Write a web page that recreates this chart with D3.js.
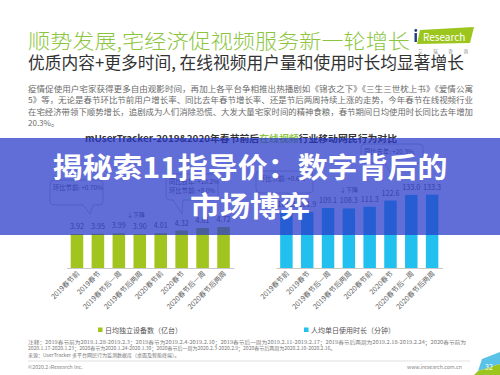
<!DOCTYPE html>
<html lang="zh">
<head>
<meta charset="utf-8">
<title>宅经济促视频服务新一轮增长</title>
<script src="https://cdn.jsdelivr.net/npm/d3@7"></script>
<style>
  body { margin: 0; background: #fff; overflow: hidden; }
  text { font-family: "Noto Sans CJK SC", "Noto Sans", sans-serif; }
</style>
</head>
<body>
<div id="chart"></div>
<script>
// data
var periods = ["2019春节前", "2019春节", "2019春节后一周", "2019春节后两周",
               "2020春节前", "2020春节", "2020春节后一周", "2020春节后两周"];
var devices = [3.92, 3.95, 3.99, 3.90, 4.01, 4.32, 4.61, 4.72];      // 日均独立设备数（亿台）
var minutes = [101.3, 101.9, 109.1, 108.3, 111.3, 122.6, 133.0, 133.3]; // 人均单日使用时长（分钟）

var paragraph = [
  "疫情促使用户宅家获得更多自由观影时间，再加上各平台争相推出热播剧如《锦衣之下》《三生三世枕上书》《爱情公寓",
  "5》等，无论是春节环比节前用户增长率、同比去年春节增长率、还是节后两周持续上涨的走势，今年春节在线视频行业",
  "在宅经济带领下顺势增长，追剧成为人们消除恐慌、大发大量宅家时间的精神食粮，春节期间日均使用时长同比去年增加",
  "20.3%。"
];
var notes = [
  "注释：2019春节前为2019.1.28-2019.2.3；2019春节为2019.2.4-2019.2.10；2019春节后一周为2019.2.11-2019.2.17；2019春节后两周为2019.2.18-2019.2.24；2020春节前为",
  "2020.1.17-2020.1.23；2020春节为2020.1.24-2020.1.30；2020春节后一周为2020.2.3-2020.2.9；2020春节后两周为2020.2.10-2020.2.16。",
  "来源：UserTracker 多平台网民行为监测数据库（桌面及智能终端）。"
];

var w = 500, h = 375;
var green = "#a2c41e", cyan = "#22c0ee";

var svg = d3.select("#chart").append("svg")
  .attr("width", w).attr("height", h);

svg.append("rect").attr("width", w).attr("height", h).attr("fill", "#fff");

// headings
svg.append("text").attr("x", 28).attr("y", 49)
  .attr("font-size", 20.5).attr("font-weight", 300).attr("fill", "#8cc63f")
  .attr("textLength", 382).attr("lengthAdjust", "spacingAndGlyphs")
  .text("顺势发展,宅经济促视频服务新一轮增长");

svg.append("text").attr("x", 28).attr("y", 69)
  .attr("font-size", 16.5).attr("fill", "#333")
  .attr("textLength", 436).attr("lengthAdjust", "spacingAndGlyphs")
  .text("优质内容+更多时间, 在线视频用户量和使用时长均显著增长");

// logo
var logo = svg.append("g");
logo.append("polygon").attr("points", "420,30 474,27 470,43 417,44").attr("fill", "#9cc61e");
logo.append("text").attr("x", 423).attr("y", 40.5).attr("font-size", 10)
  .attr("font-family", "Lato, sans-serif").attr("fill", "#fff").text("Research");
logo.append("rect").attr("x", 414.5).attr("y", 33).attr("width", 2.4).attr("height", 9).attr("fill", "#1d3f7a");
logo.append("circle").attr("cx", 415.8).attr("cy", 30.5).attr("r", 1.4).attr("fill", "#1d3f7a");
logo.append("text").attr("x", 418).attr("y", 53).attr("font-size", 4.5).attr("fill", "#888")
  .attr("textLength", 50).text("艾 瑞 咨 询");

// paragraph
svg.selectAll(".para").data(paragraph).enter().append("text")
  .attr("class", "para")
  .attr("x", 28).attr("y", function(d, i) { return 92 + i * 11.3; })
  .attr("font-size", 8).attr("fill", "#6a6a6a")
  .attr("textLength", function(d, i) { return i < 3 ? 445 : null; })
  .attr("lengthAdjust", "spacingAndGlyphs")
  .text(function(d) { return d; });

// chart title
var ct = svg.append("text").attr("x", 85).attr("y", 141.5)
  .attr("font-size", 9.5).attr("font-weight", 700).attr("fill", "#333")
  .attr("textLength", 312).attr("lengthAdjust", "spacingAndGlyphs");
ct.append("tspan").text("mUserTracker-2019&2020年春节前后");
ct.append("tspan").attr("fill", "#8cc63f").text("在线视频");
ct.append("tspan").text("行业移动网民行为对比");

// scales
var base = 268;
var xL = d3.scaleBand().domain(periods).range([66.5, 234]).paddingInner(0.4).paddingOuter(0.2);
var xR = d3.scaleBand().domain(periods).range([276, 442.5]).paddingInner(0.4).paddingOuter(0.2);
var yL = d3.scaleLinear().domain([0, 13.6]).range([base, 150]);
var yR = d3.scaleLinear().domain([0, 214.5]).range([base, 150]);

function drawPanel(x, y, values, color, fmt) {
  var g = svg.append("g");
  g.selectAll("rect").data(values).enter().append("rect")
    .attr("x", function(d, i) { return x(periods[i]); })
    .attr("y", function(d) { return y(d); })
    .attr("width", x.bandwidth())
    .attr("height", function(d) { return base - y(d); })
    .attr("fill", color);

  g.selectAll(".val").data(values).enter().append("text")
    .attr("class", "val")
    .attr("x", function(d, i) { return x(periods[i]) + x.bandwidth() / 2; })
    .attr("y", function(d) { return y(d) - 5; })
    .attr("text-anchor", "middle").attr("font-size", 7.2).attr("fill", "#555")
    .text(function(d) { return fmt(d); });

  var ax = g.append("g").attr("transform", "translate(0," + base + ")")
    .call(d3.axisBottom(x).tickSize(0).tickPadding(0));
  ax.select(".domain").attr("stroke", "#bbb").attr("stroke-width", 0.8);
  ax.selectAll(".tick text")
    .attr("font-size", 7).attr("fill", "#666")
    .attr("font-family", "Noto Sans CJK SC, sans-serif")
    .attr("text-anchor", "end").attr("dy", 0).attr("y", 0)
    .attr("transform", "translate(3,6) rotate(-45)");
  return g;
}

drawPanel(xL, yL, devices, green, d3.format(".2f"));
drawPanel(xR, yR, minutes, cyan, d3.format(".1f"));

// callouts
function callout(x0, y0, x1, y1, tip, lines) {
  var r = 4, bx = tip[2], bw = 10;
  var p = "M" + (x0 + r) + "," + y0 + " H" + (x1 - r) + " Q" + x1 + "," + y0 + " " + x1 + "," + (y0 + r) +
    " V" + (y1 - r) + " Q" + x1 + "," + y1 + " " + (x1 - r) + "," + y1 +
    " H" + (bx + bw) + " L" + tip[0] + "," + tip[1] + " L" + bx + "," + y1 +
    " H" + (x0 + r) + " Q" + x0 + "," + y1 + " " + x0 + "," + (y1 - r) +
    " V" + (y0 + r) + " Q" + x0 + "," + y0 + " " + (x0 + r) + "," + y0 + "Z";
  svg.append("path").attr("d", p).attr("fill", "none").attr("stroke", "#aaa").attr("stroke-width", 0.7);
  lines.forEach(function(t, i) {
    svg.append("text").attr("x", x0 + 3).attr("y", y0 + 10 + i * 9)
      .attr("font-size", 6.3).attr("fill", "#555").text(t);
  });
}
callout(50, 180, 103, 205, [90, 214, 83], ["环比节前: +0.70%"]);
callout(166, 174, 218, 200, [182, 214, 173], ["同比去年: +10.2%", "环比节前: +8.0%"]);
callout(256, 171, 313, 193, [300, 201, 288], ["环比节前: +0.6%"]);
callout(361, 144, 423, 163, [393, 178, 385], ["同比去年: +20.3%"]);

svg.append("text").attr("x", 136).attr("y", 217).attr("text-anchor", "middle")
  .attr("font-size", 6).attr("fill", "#555").text("↓下降");
svg.append("text").attr("x", 349).attr("y", 192).attr("text-anchor", "middle")
  .attr("font-size", 6).attr("fill", "#555").text("↓下降");

// legends
var legends = [
  { x: 98, color: green, label: "日均独立设备数（亿台）" },
  { x: 304, color: cyan, label: "人均单日使用时长（分钟）" }
];
legends.forEach(function(l) {
  svg.append("rect").attr("x", l.x).attr("y", 327.5).attr("width", 4.5).attr("height", 4.5).attr("fill", l.color);
  svg.append("text").attr("x", l.x + 7).attr("y", 333).attr("font-size", 7).attr("fill", "#555").text(l.label);
});

// notes
svg.selectAll(".note").data(notes).enter().append("text")
  .attr("class", "note")
  .attr("x", 28).attr("y", function(d, i) { return 344 + i * 6.3; })
  .attr("font-size", 5).attr("fill", "#777")
  .attr("textLength", function(d, i) { return i === 0 ? 438 : null; })
  .attr("lengthAdjust", "spacingAndGlyphs")
  .text(function(d) { return d; });

svg.append("line").attr("x1", 28).attr("x2", 470).attr("y1", 361).attr("y2", 361)
  .attr("stroke", "#ccc").attr("stroke-width", 0.6);
svg.append("text").attr("x", 28).attr("y", 369).attr("font-size", 5.2).attr("fill", "#888")
  .text("©2020.2 iResearch Inc.");
svg.append("text").attr("x", 407).attr("y", 369).attr("font-size", 5.2).attr("fill", "#888")
  .text("www.iresearch.com.cn");

// page badge
svg.append("polygon").attr("points", "482,359 500,352 500,364 478,371").attr("fill", "#5bc2e7");
svg.append("polygon").attr("points", "478,371 500,364 500,375 474,375").attr("fill", "#9cc61e");
svg.append("text").attr("x", 489).attr("y", 370).attr("text-anchor", "middle")
  .attr("font-size", 7).attr("fill", "#fff").text("32");

// overlay banner
svg.append("rect").attr("x", 0).attr("y", 138).attr("width", w).attr("height", 97)
  .attr("fill", "rgb(40,56,200)").attr("opacity", 0.73);
svg.append("text").attr("x", 250).attr("y", 178).attr("text-anchor", "middle")
  .attr("font-size", 28).attr("font-weight", 700).attr("fill", "#fff")
  .attr("textLength", 395).attr("lengthAdjust", "spacingAndGlyphs")
  .text("揭秘索11指导价：数字背后的");
svg.append("text").attr("x", 250).attr("y", 217).attr("text-anchor", "middle")
  .attr("font-size", 28).attr("font-weight", 700).attr("fill", "#fff")
  .attr("textLength", 120).attr("lengthAdjust", "spacingAndGlyphs")
  .text("市场博弈");
</script>
</body>
</html>
